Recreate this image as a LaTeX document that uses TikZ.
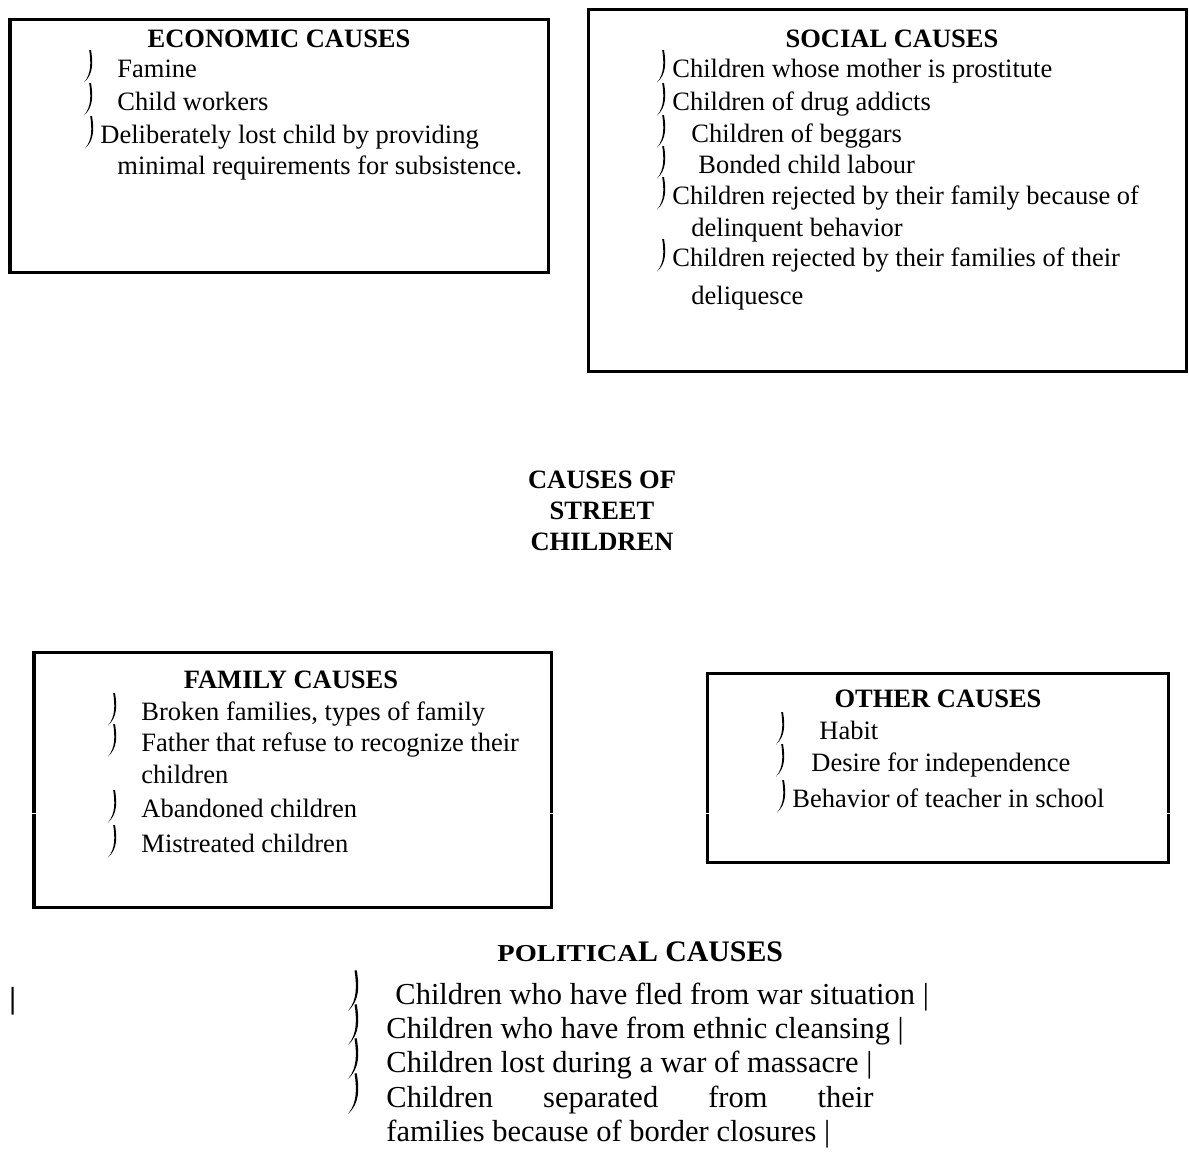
\documentclass[tikz,border=0pt]{standalone}
\usepackage{fontspec}
\setmainfont{Liberation Serif}
\usepackage{graphicx}
\begin{document}
\begin{tikzpicture}[x=0.4528pt,y=-0.4528pt,
  txt/.style={anchor=base west, inner sep=0pt, font=\fontsize{12}{14}\selectfont},
  ttl/.style={anchor=base, inner sep=0pt, font=\fontsize{12}{14}\selectfont\bfseries},
  ptxt/.style={anchor=base west, inner sep=0pt, font=\fontsize{13.8}{16}\selectfont},
  causebox/.style={line width=1.36pt},
  hookmark/.pic={\fill (7,-27) .. controls (9,-15) and (9.6,-3) .. (0,5.5) .. controls (7.4,-3) and (7,-15) .. (5.2,-27) -- cycle;}
]
\useasboundingbox (0,0) rectangle (1189,1164);

% ---------------- boxes
\draw[causebox] (10,19) rectangle (548,272);
\draw[causebox] (588,9) rectangle (1186,371);
\draw[causebox] (34,652) rectangle (551,907);
\draw[causebox] (707,673) rectangle (1168,862);
% small gaps in the lower box borders
\fill[white] (30,812.5) rectangle (38,813.8);
\fill[white] (547,812.5) rectangle (555,813.8);
\fill[white] (703,812.5) rectangle (711,813.8);
\fill[white] (1164,812.5) rectangle (1172,813.8);

% ---------------- economic causes
\node[ttl] (econT) at (279,47) {ECONOMIC CAUSES};
\pic at (84,77) {hookmark};
\node[txt] (e1) at (117,77) {Famine};
\pic at (84,110) {hookmark};
\node[txt] (e2) at (117,110) {Child workers};
\pic at (85,143) {hookmark};
\node[txt] (e3) at (100,143) {Deliberately lost child by providing};
\node[txt] (e4) at (117,174) {minimal requirements for subsistence.};

% ---------------- social causes
\node[ttl] (socT) at (892,47) {SOCIAL CAUSES};
\pic at (657,77) {hookmark};
\node[txt] (s1) at (672,77) {Children whose mother is prostitute};
\pic at (657,110) {hookmark};
\node[txt] (s2) at (672,110) {Children of drug addicts};
\pic at (657,142) {hookmark};
\node[txt] (s3) at (691,142) {Children of beggars};
\pic at (657,173) {hookmark};
\node[txt] (s4) at (698,173) {Bonded child labour};
\pic at (657,204) {hookmark};
\node[txt] (s5) at (672,204) {Children rejected by their family because of};
\node[txt] (s6) at (691,236) {delinquent behavior};
\pic at (657,266) {hookmark};
\node[txt] (s7) at (672,266) {Children rejected by their families of their};
\node[txt] (s8) at (691,304) {deliquesce};

% ---------------- central title
\node[ttl] (c1) at (602,488) {CAUSES OF};
\node[ttl] (c2) at (602,519) {STREET};
\node[ttl] (c3) at (602,550) {CHILDREN};

% ---------------- family causes
\node[ttl] (famT) at (291,688) {FAMILY CAUSES};
\pic at (108,720) {hookmark};
\node[txt] (f1) at (141,720) {Broken families, types of family};
\pic at (108,751) {hookmark};
\node[txt] (f2) at (141,751) {Father that refuse to recognize their};
\node[txt] (f3) at (141,783) {children};
\pic at (108,817) {hookmark};
\node[txt] (f4) at (141,817) {Abandoned children};
\pic at (108,852) {hookmark};
\node[txt] (f5) at (141,852) {Mistreated children};

% ---------------- other causes
\node[ttl] (othT) at (938,707) {OTHER CAUSES};
\pic at (776,739) {hookmark};
\node[txt] (o1) at (819,739) {Habit};
\pic at (776,771) {hookmark};
\node[txt] (o2) at (811,771) {Desire for independence};
\pic at (777,807) {hookmark};
\node[txt] (o3) at (792,807) {Behavior of teacher in school};

% ---------------- political causes
\node[anchor=base west, inner sep=0pt, font=\bfseries] (polT) at (497,961)
  {\scalebox{1.17}[1]{\fontsize{11}{13}\selectfont POLITICA}{\fontsize{13.5}{16}\selectfont L CAUSES}};
\node[ptxt, font=\fontsize{13.8}{16}\selectfont\bfseries] (bar) at (9,1008) {|};
\pic[scale=1.25] at (348,1004) {hookmark};
\node[ptxt] (p1) at (395,1004) {Children who have fled from war situation |};
\pic[scale=1.25] at (348,1038) {hookmark};
\node[ptxt] (p2) at (386,1038) {Children who have from ethnic cleansing |};
\pic[scale=1.25] at (348,1072) {hookmark};
\node[ptxt] (p3) at (386,1072) {Children lost during a war of massacre |};
\pic[scale=1.25] at (348,1107) {hookmark};
\node[ptxt] (p4) at (386,1107) {\hbox to 220.5pt{Children\hfill separated\hfill from\hfill their}};
\node[ptxt] (p5) at (386,1141) {families because of border closures |};
\end{tikzpicture}
\end{document}
